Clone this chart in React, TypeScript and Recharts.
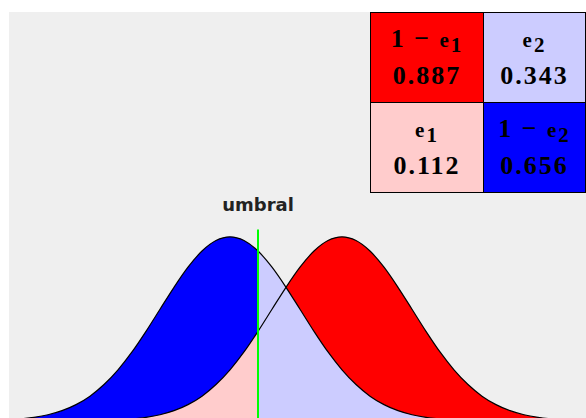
import { Area, ComposedChart, Line, ReferenceDot, ReferenceLine, XAxis, YAxis } from "recharts";

// sample positions along the decision axis (units of sigma)
const xs = [
  -3.0, -2.8, -2.6, -2.4, -2.2, -2.0, -1.8, -1.6, -1.4, -1.2, -1.0, -0.8, -0.6, -0.4, -0.2, 0.0,
  0.2, 0.4, 0.6, 0.8, 1.0, 1.2, 1.4, 1.6, 1.8, 2.0, 2.2, 2.4, 2.6, 2.8, 3.0, 3.2, 3.4, 3.6, 3.8,
  4.0, 4.2, 4.4, 4.6, 4.8,
];

// class 1 (left bell) relative height
const leftCurve = [
  0.011, 0.02, 0.034, 0.056, 0.089, 0.135, 0.198, 0.278, 0.375, 0.487, 0.607, 0.726, 0.835, 0.923,
  0.98, 1.0, 0.98, 0.923, 0.835, 0.726, 0.607, 0.487, 0.375, 0.278, 0.198, 0.135, 0.089, 0.056,
  0.034, 0.02, 0.011, 0.006, 0.003, 0.002, 0.001, 0, 0, 0, 0, 0,
];

// class 2 (right bell) relative height
const rightCurve = [
  0, 0, 0, 0, 0.001, 0.002, 0.003, 0.006, 0.011, 0.02, 0.034, 0.056, 0.089, 0.135, 0.198, 0.278,
  0.375, 0.487, 0.607, 0.726, 0.835, 0.923, 0.98, 1.0, 0.98, 0.923, 0.835, 0.726, 0.607, 0.487,
  0.375, 0.278, 0.198, 0.135, 0.089, 0.056, 0.034, 0.02, 0.011, 0.006,
];

const threshold = 0.4;

// error table: top row then bottom row
const cellNames = [
  ["1 \u2212 e", "1"],
  ["e", "2"],
  ["e", "1"],
  ["1 \u2212 e", "2"],
];
const cellValues = [0.887, 0.343, 0.112, 0.656];
const cellColors = ["#ff0000", "#ccccff", "#ffcccc", "#0000ff"];

const data = xs.map((x, i) => ({
  x,
  left: leftCurve[i],
  right: rightCurve[i],
  hit1: x <= threshold ? leftCurve[i] : null,
  miss1: x >= threshold ? leftCurve[i] : null,
  hit2: x >= threshold ? rightCurve[i] : null,
  miss2: x <= threshold ? rightCurve[i] : null,
}));

const cellBoxes = [
  { left: 370, top: 12, width: 114 },
  { left: 483, top: 12, width: 103 },
  { left: 370, top: 102, width: 114 },
  { left: 483, top: 102, width: 103 },
];

function Cell({ idx }: { idx: number }) {
  const b = cellBoxes[idx];
  const [main, sub] = cellNames[idx];
  const prefix = main.slice(0, -1);
  return (
    <div
      style={{
        position: "absolute",
        left: b.left,
        top: b.top,
        width: b.width,
        height: 91,
        boxSizing: "border-box",
        border: "1px solid #000",
        background: cellColors[idx],
        fontFamily: "'Liberation Serif', serif",
        fontWeight: "bold",
        fontSize: 26,
        letterSpacing: 2,
        lineHeight: "36px",
        color: "#000",
        textAlign: "center",
        paddingTop: 8,
      }}
    >
      <div>
        {prefix}
        <span style={{ fontSize: 21 }}>e</span>
        <span style={{ fontSize: 21, position: "relative", top: 5 }}>{sub}</span>
      </div>
      <div>{cellValues[idx].toFixed(3)}</div>
    </div>
  );
}

export default function App() {
  return (
    <div
      style={{
        position: "absolute",
        left: 0,
        top: 0,
        width: 586,
        height: 418,
        overflow: "hidden",
        background: "#fff",
      }}
    >
      <div style={{ position: "absolute", left: 9, top: 12, right: 0, bottom: 0, background: "#efefef" }} />
      <div style={{ position: "absolute", left: 0, top: 0 }}>
        <ComposedChart width={586} height={430} data={data} margin={{ top: 200, right: 6, bottom: 9, left: 6 }}>
          <XAxis type="number" dataKey="x" domain={[-3.2, 5.0]} hide allowDataOverflow />
          <YAxis type="number" domain={[0, 1.2]} hide allowDataOverflow />
          <Area type="monotone" dataKey="hit1" stroke="none" fill="#0000ff" fillOpacity={1} isAnimationActive={false} />
          <Area type="monotone" dataKey="hit2" stroke="none" fill="#ff0000" fillOpacity={1} isAnimationActive={false} />
          <Area type="monotone" dataKey="miss2" stroke="none" fill="#ffcccc" fillOpacity={1} isAnimationActive={false} />
          <Area type="monotone" dataKey="miss1" stroke="none" fill="#ccccff" fillOpacity={1} isAnimationActive={false} />
          <Line type="monotone" dataKey="left" stroke="#000" strokeWidth={1.2} dot={false} isAnimationActive={false} />
          <Line type="monotone" dataKey="right" stroke="#000" strokeWidth={1.2} dot={false} isAnimationActive={false} />
          <ReferenceLine
            segment={[
              { x: threshold, y: 0 },
              { x: threshold, y: 1.04 },
            ]}
            stroke="#00ff00"
            strokeWidth={2}
            ifOverflow="visible"
          />
          <ReferenceDot
            x={threshold}
            y={1.175}
            r={0}
            fill="none"
            stroke="none"
            ifOverflow="visible"
            label={{
              value: "umbral",
              position: "center",
              fill: "#222",
              fontSize: 18,
              fontWeight: "bold",
              fontFamily: "'DejaVu Sans', sans-serif",
            }}
          />
        </ComposedChart>
      </div>
      {cellBoxes.map((_, i) => (
        <Cell key={i} idx={i} />
      ))}
    </div>
  );
}
